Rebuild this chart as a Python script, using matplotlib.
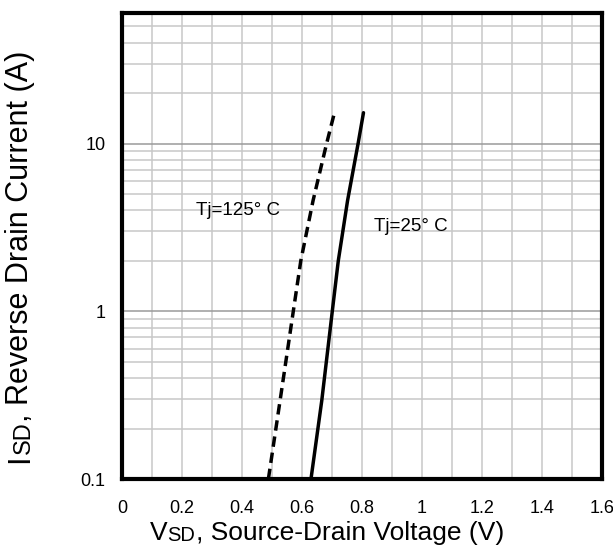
import matplotlib
matplotlib.use('Agg')
import matplotlib.pyplot as plt
import numpy as np
from matplotlib.ticker import FixedLocator, NullFormatter

# Tj = 25 C curve (solid) and Tj = 125 C curve (dashed)
vsd_25 = [0.630, 0.666, 0.701, 0.721, 0.752, 0.787, 0.805]
isd_25 = [0.1, 0.294, 1, 2, 4.58, 10, 15.3]
vsd_125 = [0.488, 0.527, 0.571, 0.596, 0.637, 0.682, 0.707]
isd_125 = [0.1, 0.294, 1, 2, 4.58, 10, 15]

xticks = [0, 0.2, 0.4, 0.6, 0.8, 1, 1.2, 1.4, 1.6]
xtick_labels = ['0', '0.2', '0.4', '0.6', '0.8', '1', '1.2', '1.4', '1.6']
yticks = [0.1, 1, 10]
ytick_labels = ['0.1', '1', '10']

arial = ['Liberation Sans', 'DejaVu Sans']

fig = plt.figure(figsize=(6.13, 5.5), dpi=100)
ax = fig.add_axes([0.199, 0.129, 0.783, 0.847])

ax.set_yscale('log')
ax.set_xlim(0, 1.6)
ax.set_ylim(0.1, 60)

# grid: every 0.1 V, and 1..9 per decade
ax.xaxis.set_major_locator(FixedLocator(xticks))
ax.xaxis.set_minor_locator(FixedLocator(np.arange(0.1, 1.6, 0.2)))
ax.yaxis.set_major_locator(FixedLocator(yticks))
minors = [m * d for d in (0.1, 1, 10) for m in range(2, 10) if m * d < 60]
ax.yaxis.set_minor_locator(FixedLocator(minors))
ax.yaxis.set_minor_formatter(NullFormatter())
ax.grid(which='both', axis='x', color='#c8c8c8', lw=1.1)
ax.grid(which='minor', axis='y', color='#c8c8c8', lw=1.1)
ax.grid(which='major', axis='y', color='#9a9a9a', lw=1.1)
ax.set_axisbelow(True)

ax.set_xticks(xticks)
ax.set_xticklabels(xtick_labels, family=arial, fontsize=13)
ax.set_yticks(yticks)
ax.set_yticklabels(ytick_labels, family=arial, fontsize=13)
ax.tick_params(which='both', length=0)
ax.tick_params(axis='x', pad=15)
ax.tick_params(axis='y', pad=12)

for s in ax.spines.values():
    s.set_linewidth(3)
    s.set_color('black')

ax.plot(vsd_25, isd_25, color='black', lw=2.5, solid_capstyle='round')
ax.plot(vsd_125, isd_125, color='black', lw=2.5, linestyle=(0, (3.0, 1.7)))

ax.text(0.247, 4.0, 'Tj=125° C', family=arial, fontsize=13.5, va='center')
ax.text(0.84, 3.2, 'Tj=25° C', family=arial, fontsize=13.5, va='center')

# axis labels with small-caps subscript letters
t1 = fig.text(150 / 613, 1 - 540 / 550, 'V', family=arial, fontsize=19, va='baseline')
t2 = ax.annotate('SD', xy=(1, 0), xycoords=t1, family=arial, fontsize=14.5,
                 va='bottom', ha='left')
ax.annotate(', Source-Drain Voltage (V)', xy=(1, 0), xycoords=t2, family=arial,
            fontsize=19, va='bottom', ha='left')

u1 = fig.text(35 / 613, 1 - 463 / 550, 'I', family=arial, fontsize=22,
              rotation=90, ha='right', va='bottom')
u2 = ax.annotate('SD', xy=(1, 1), xycoords=u1, family=arial, fontsize=17,
                 rotation=90, ha='right', va='bottom')
ax.annotate(', Reverse Drain Current (A)', xy=(1, 1), xycoords=u2, family=arial,
            fontsize=22, rotation=90, ha='right', va='bottom')

fig.savefig('out.png', dpi=100)
